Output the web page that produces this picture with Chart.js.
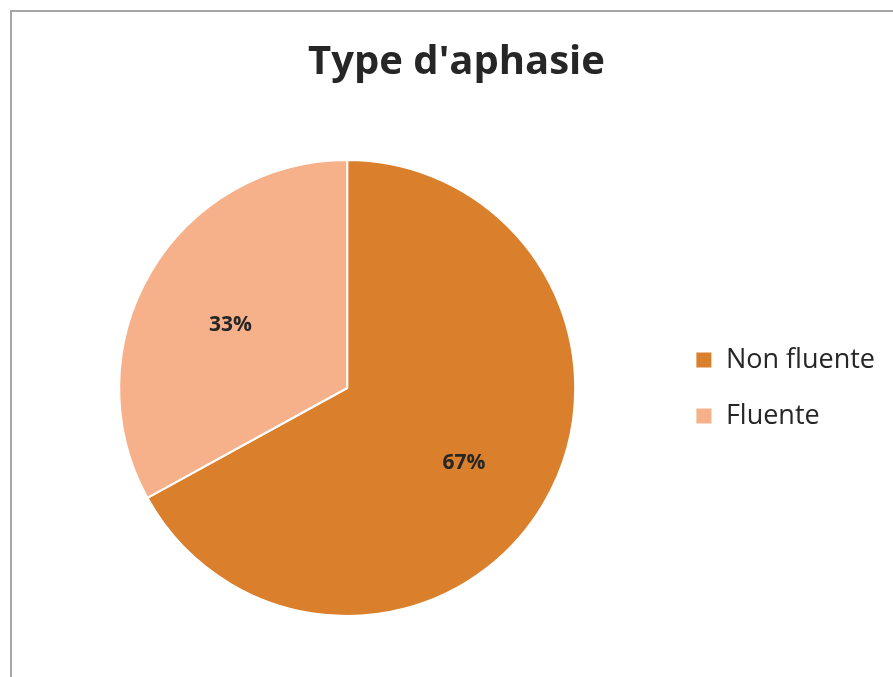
<!DOCTYPE html>
<html>
<head>
<meta charset="utf-8">
<script src="https://cdn.jsdelivr.net/npm/chart.js@4.4.1/dist/chart.umd.min.js"></script>
<style>
  html, body { margin: 0; padding: 0; background: #fff; overflow: hidden; }
  #frame {
    position: absolute; left: 10px; top: 10px;
    width: 883px; height: 667px;
    border-left: 2px solid #a6a6a6; border-top: 2px solid #a6a6a6;
    box-sizing: border-box;
  }
  /* canvas runs past the right edge so the title centres like the reference */
  #wrap { position: absolute; left: 0; top: 0; width: 902px; height: 665px; }
</style>
</head>
<body>
<div id="frame"><div id="wrap"><canvas id="myChart"></canvas></div></div>
<script>
// data
const categories = ["Non fluente", "Fluente"];
const shares = [67, 33];
const sliceColors = ["#DA7F2C", "#F7B18A"];

// percent labels inside slices
const sliceLabels = {
  id: "sliceLabels",
  afterDatasetsDraw(chart) {
    const ctx = chart.ctx;
    const meta = chart.getDatasetMeta(0);
    const total = shares.reduce((a, b) => a + b, 0);
    ctx.save();
    ctx.font = "bold 21px 'Open Sans'";
    ctx.fillStyle = "#262626";
    ctx.textAlign = "center";
    ctx.textBaseline = "middle";
    meta.data.forEach((arc, i) => {
      const mid = (arc.startAngle + arc.endAngle) / 2;
      const r = arc.outerRadius * 0.595;
      const x = arc.x + Math.cos(mid) * r;
      const y = arc.y + Math.sin(mid) * r + 6;
      ctx.fillText(Math.round(shares[i] / total * 100) + "%", x, y);
    });
    ctx.restore();
  }
};

const chart = new Chart(document.getElementById("myChart"), {
  type: "pie",
  data: {
    labels: categories,
    datasets: [{
      data: shares,
      backgroundColor: sliceColors,
      borderColor: "#ffffff",
      borderWidth: 2
    }]
  },
  options: {
    responsive: true,
    maintainAspectRatio: false,
    animation: false,
    layout: { padding: { left: 13, right: 29, top: 0, bottom: 60 } },
    plugins: {
      title: {
        display: true,
        text: "Type d'aphasie",
        color: "#262626",
        font: { family: "'Open Sans'", size: 40, weight: "bold" },
        padding: { top: 27, bottom: 72 }
      },
      legend: {
        position: "right",
        fullSize: false,
        labels: {
          color: "#262626",
          font: { family: "'Open Sans'", size: 27 },
          boxWidth: 17,
          boxHeight: 17,
          padding: 29
        }
      },
      tooltip: { enabled: false }
    }
  },
  plugins: [sliceLabels]
});

// nudge the pie so its centre sits where the reference has it (x = 335 in canvas)
const ca = chart.chartArea;
const shift = 335 - (ca.left + ca.right) / 2;
chart.options.layout.padding.left += Math.round(shift * 2);
chart.update();
</script>
</body>
</html>
